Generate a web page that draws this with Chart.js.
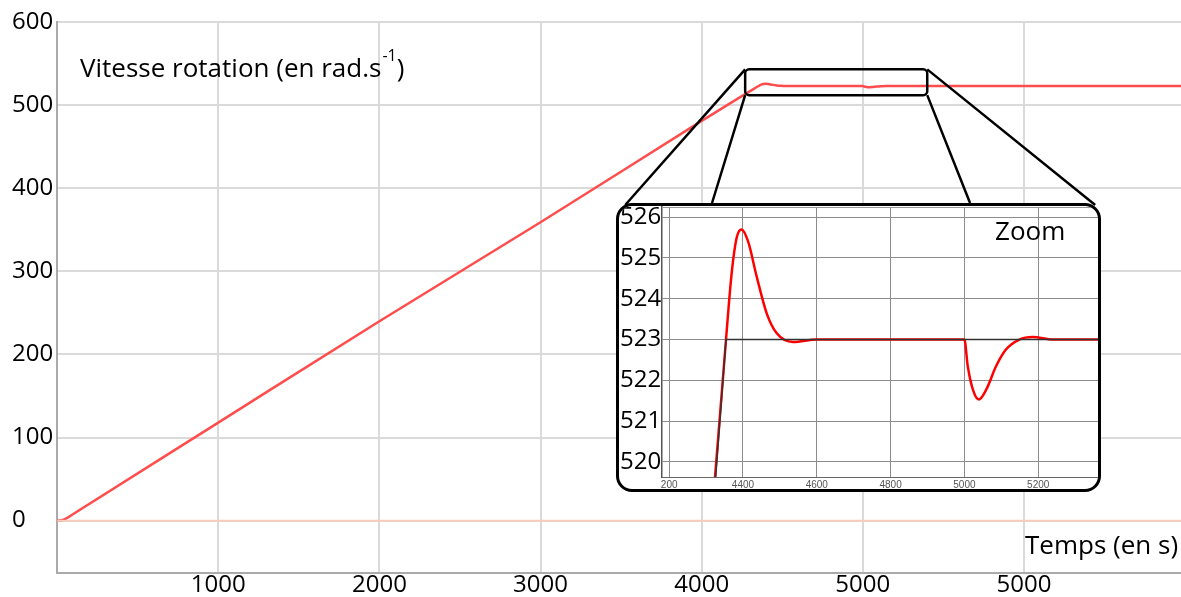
<!DOCTYPE html>
<html>
<head>
<meta charset="utf-8">
<script src="https://cdn.jsdelivr.net/npm/chart.js@4/dist/chart.umd.min.js"></script>
<style>
  body { margin: 0; background: #fff; font-family: "Open Sans", sans-serif; }
  #wrap { position: relative; width: 1181px; height: 597px; overflow: hidden; }
  #main { position: absolute; left: 0; top: 0; }
  #inset { position: absolute; left: 616px; top: 203px; width: 485px; height: 289px; box-sizing: border-box;
           border: 3px solid #000; border-radius: 16px; background: #fff; overflow: hidden; }
  #insetCanvas { position: absolute; left: 0; top: -20px; }
  .lbl { position: absolute; font-size: 26px; color: #000; white-space: nowrap; line-height: 1; }
  .lbl sup { font-size: 16px; position: relative; top: -6px; margin-left: 1px; }
</style>
</head>
<body>
<div id="wrap">
  <canvas id="main" width="1181" height="597"></canvas>
  <div class="lbl" style="left:80px; top:53px;">Vitesse rotation (en rad.s<sup>-1</sup>)</div>
  <div class="lbl" style="left:1025px; top:531px;">Temps (en s)</div>
  <div id="inset">
    <canvas id="insetCanvas" width="479" height="307"></canvas>
    <div class="lbl" style="left:376px; top:11px;">Zoom</div>
  </div>
</div>
<script>
// vitesse mesuree (rouge)
var speedTime = [0, 30, 60, 100, 1000, 2000, 3000, 4000, 4324, 4354, 4369, 4383, 4396, 4414, 4437, 4464, 4491, 4536, 4600,
                 5000, 5009, 5023, 5039, 5059, 5086, 5112, 5149, 5185, 5240, 6975];
var speedVal = [0, 0.5, 3, 8, 118, 240, 359, 481, 519.6, 523, 524.6, 525.5, 525.7, 525.4, 524.55, 523.65, 523.16, 522.94, 523,
                523, 522.35, 521.77, 521.53, 521.77, 522.35, 522.75, 523, 523.06, 523, 523];
// consigne
var setTime = [0, 4354, 6975];
var setVal = [0, 523, 523];
// ligne a zero
var zeroTime = [0, 6975];
var zeroVal = [0, 0];

var mainXTicks = [0, 1000, 2000, 3000, 4000, 5000, 6000];
var mainXLabels = ['', '1000', '2000', '3000', '4000', '5000', '5000'];
var mainYTicks = [0, 100, 200, 300, 400, 500, 600];
var insetXTicks = [4200, 4400, 4600, 4800, 5000, 5200];
var insetXLabels = ['200', '4400', '4600', '4800', '5000', '5200'];
var insetYTicks = [520, 521, 522, 523, 524, 525, 526];

// zone agrandie
var zoomT0 = 4270, zoomT1 = 5400, zoomV0 = 512, zoomV1 = 543;

function pts(t, v) {
    return t.map(function (x, i) { return {x: x, y: v[i]}; });
}

function fixedTicks(list) {
    return function (scale) { scale.ticks = list.map(function (v) { return {value: v}; }); };
}

var zoomMarker = {
    id: 'zoomMarker',
    afterDatasetsDraw: function (chart) {
        var ctx = chart.ctx, xs = chart.scales.x, ys = chart.scales.y;
        var x0 = xs.getPixelForValue(zoomT0), x1 = xs.getPixelForValue(zoomT1);
        var y0 = ys.getPixelForValue(zoomV1), y1 = ys.getPixelForValue(zoomV0);
        var box = document.getElementById('inset');
        var bl = box.offsetLeft, bt = box.offsetTop, bw = box.offsetWidth;
        ctx.save();
        ctx.strokeStyle = '#000';
        ctx.lineWidth = 2.5;
        ctx.beginPath();
        ctx.moveTo(x0, y0); ctx.lineTo(bl + bw * 0.019, bt + 2);
        ctx.moveTo(x0, y1); ctx.lineTo(bl + bw * 0.198, bt);
        ctx.moveTo(x1, y1); ctx.lineTo(bl + bw * 0.73, bt);
        ctx.moveTo(x1, y0); ctx.lineTo(bl + bw * 0.988, bt + 2);
        ctx.stroke();
        ctx.beginPath();
        ctx.roundRect(x0, y0, x1 - x0, y1 - y0, 4);
        ctx.stroke();
        ctx.restore();
    }
};

var topFrame = {
    id: 'topFrame',
    afterDraw: function (chart) {
        var a = chart.chartArea, ctx = chart.ctx;
        ctx.save();
        ctx.strokeStyle = '#999';
        ctx.lineWidth = 1;
        ctx.beginPath();
        ctx.moveTo(a.left, a.top + 0.5); ctx.lineTo(a.right, a.top + 0.5);
        ctx.stroke();
        ctx.restore();
    }
};

var bigFont = {family: 'Open Sans', size: 24, lineHeight: 1};

new Chart(document.getElementById('main').getContext('2d'), {
    type: 'line',
    data: {
        datasets: [
            {data: pts(zeroTime, zeroVal), borderColor: '#f8cbbb', borderWidth: 2, pointRadius: 0},
            {data: pts(speedTime, speedVal), borderColor: '#ff4d4d', borderWidth: 2.5, pointRadius: 0,
             cubicInterpolationMode: 'monotone'}
        ]
    },
    options: {
        responsive: false,
        animation: false,
        devicePixelRatio: 1,
        layout: {padding: {left: 12, top: 22, right: 0, bottom: 0}},
        plugins: {legend: {display: false}, tooltip: {enabled: false}},
        scales: {
            x: {
                type: 'linear', min: 0, max: 6975, bounds: 'data',
                afterBuildTicks: fixedTicks(mainXTicks),
                ticks: {font: bigFont, color: '#000', padding: 0, maxRotation: 0, autoSkip: false,
                        callback: function (v, i) { return mainXLabels[i]; }},
                grid: {color: '#dadada', lineWidth: 2, drawTicks: false},
                border: {color: '#aaa', width: 2}
            },
            y: {
                type: 'linear', min: -63, max: 600, bounds: 'data',
                afterBuildTicks: fixedTicks(mainYTicks),
                ticks: {font: bigFont, color: '#000', padding: 2, crossAlign: 'far'},
                grid: {color: '#dadada', lineWidth: 2, drawTicks: false},
                border: {color: '#aaa', width: 2}
            }
        }
    },
    plugins: [zoomMarker]
});

new Chart(document.getElementById('insetCanvas').getContext('2d'), {
    type: 'line',
    data: {
        datasets: [
            {data: pts(setTime, setVal), borderColor: '#333', borderWidth: 1.5, pointRadius: 0},
            {data: pts(speedTime, speedVal), borderColor: '#ff0000', borderWidth: 2.5, pointRadius: 0,
             cubicInterpolationMode: 'monotone'}
        ]
    },
    options: {
        responsive: false,
        animation: false,
        devicePixelRatio: 1,
        layout: {padding: {top: 21, left: 0, right: 0, bottom: 0}},
        plugins: {legend: {display: false}, tooltip: {enabled: false}},
        scales: {
            x: {
                type: 'linear', min: 4181, max: 5362, bounds: 'data',
                afterBuildTicks: fixedTicks(insetXTicks),
                ticks: {font: {family: 'Arial', size: 10}, color: '#555', padding: 2, maxRotation: 0, autoSkip: false,
                        callback: function (v, i) { return insetXLabels[i]; }},
                grid: {color: '#8c8c8c', lineWidth: 1, drawTicks: false},
                border: {color: '#666', width: 1}
            },
            y: {
                type: 'linear', min: 519.63, max: 526.25, bounds: 'data',
                afterBuildTicks: fixedTicks(insetYTicks),
                ticks: {font: bigFont, color: '#000', padding: 1},
                grid: {color: '#8c8c8c', lineWidth: 1, drawTicks: false},
                border: {color: '#555', width: 1.5}
            }
        }
    },
    plugins: [topFrame]
});
</script>
</body>
</html>
